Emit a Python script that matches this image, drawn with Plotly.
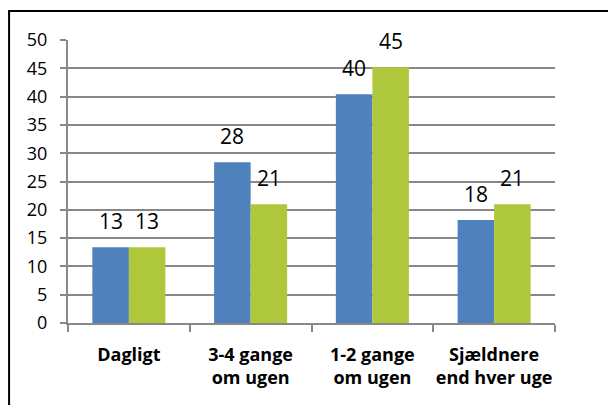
import plotly.graph_objects as go

# data
categories = ["Dagligt", "3-4 gange<br>om ugen", "1-2 gange<br>om ugen", "Sjældnere<br>end hver uge"]
series_a = [13.4, 28.4, 40.4, 18.2]
series_b = [13.4, 21.0, 45.2, 21.0]
y_ticks = list(range(0, 55, 5))

BLUE = "#4F81BD"
GREEN = "#AFC73A"
GRID = "#888888"
FONT = "Open Sans, Lato, sans-serif"

x = list(range(len(categories)))
bar_w = 0.3

fig = go.Figure()
fig.add_trace(go.Bar(x=x, y=series_a, name="A", marker=dict(color=BLUE, line=dict(width=0))))
fig.add_trace(go.Bar(x=x, y=series_b, name="B", marker=dict(color=GREEN, line=dict(width=0))))

# value labels above each bar
for vals, off in ((series_a, -bar_w / 2), (series_b, bar_w / 2)):
    for xi, v in zip(x, vals):
        fig.add_annotation(x=xi + off, y=v, text=f"{v:.0f}", showarrow=False,
                           yanchor="bottom", yshift=10,
                           font=dict(size=21, color="black", family=FONT))

# frame around the chart
fig.add_shape(type="rect", xref="paper", yref="paper",
              x0=-0.121, x1=1.121, y0=-0.32, y1=1.1025,
              line=dict(color="black", width=2), fillcolor="rgba(0,0,0,0)", layer="below")

# the page body adds 8px margin, so the figure is 8px smaller than the window
fig.update_layout(
    width=608, height=397,
    margin=dict(l=60, r=61, t=32, b=82, autoexpand=False),
    paper_bgcolor="white", plot_bgcolor="white",
    barmode="group", bargap=0.4, bargroupgap=0,
    showlegend=False,
    font=dict(family=FONT, color="black"),
)
fig.update_xaxes(
    range=[-0.5, len(categories) - 0.5], automargin=False,
    tickvals=x, ticktext=[f"<b>{c}</b>" for c in categories],
    ticks="", showgrid=False, zeroline=False,
    showline=True, linecolor=GRID, linewidth=2,
    tickfont=dict(size=18, family=FONT, color="black"),
    ticklabelstandoff=14,
    minor=dict(tickvals=[i - 0.5 for i in range(len(categories) + 1)],
               ticks="outside", ticklen=7, tickcolor=GRID, tickwidth=2),
)
fig.update_yaxes(
    range=[0, 50], tickvals=y_ticks, automargin=False,
    showgrid=True, gridcolor=GRID, gridwidth=1.5, zeroline=False,
    showline=True, linecolor=GRID, linewidth=2,
    ticks="outside", ticklen=6, tickcolor=GRID, tickwidth=2,
    tickfont=dict(size=18, family=FONT, color="black"),
    ticklabelstandoff=9,
)

fig.write_html("out.html")
